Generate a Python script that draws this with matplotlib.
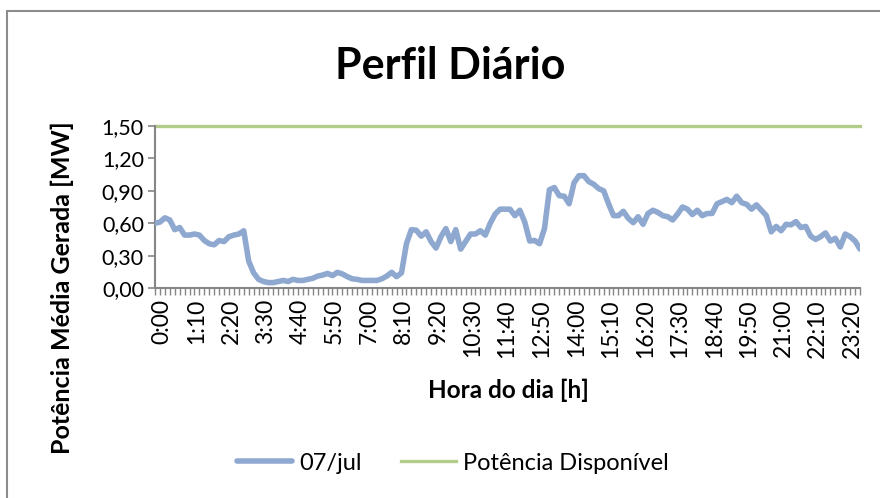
import matplotlib
matplotlib.use("Agg")
import matplotlib.pyplot as plt
from matplotlib.patches import Rectangle
from matplotlib.ticker import FixedLocator, MultipleLocator, FuncFormatter
from matplotlib.transforms import ScaledTranslation

W, H = 880, 498
hours = [f"{(i*10)//60}:{(i*10)%60:02d}" for i in range(144)]

potencia = [
    0.60, 0.61, 0.65, 0.63, 0.54, 0.56, 0.49, 0.49, 0.50, 0.49,
    0.44, 0.41, 0.40, 0.44, 0.43, 0.475, 0.49, 0.50, 0.53, 0.25,
    0.14, 0.08, 0.06, 0.05, 0.05, 0.06, 0.07, 0.06, 0.08, 0.07,
    0.07, 0.08, 0.09, 0.11, 0.12, 0.135, 0.115, 0.145, 0.13, 0.105,
    0.085, 0.08, 0.07, 0.07, 0.07, 0.07, 0.085, 0.11, 0.145, 0.105,
    0.14, 0.41, 0.54, 0.535, 0.48, 0.52, 0.43, 0.37, 0.475, 0.55,
    0.43, 0.54, 0.36, 0.43, 0.50, 0.50, 0.53, 0.49, 0.60, 0.685,
    0.73, 0.73, 0.73, 0.67, 0.72, 0.61, 0.435, 0.44, 0.41, 0.55,
    0.91, 0.93, 0.855, 0.85, 0.78, 0.975, 1.04, 1.04, 0.985, 0.96,
    0.92, 0.90, 0.78, 0.67, 0.67, 0.71, 0.645, 0.605, 0.66, 0.59,
    0.69, 0.72, 0.70, 0.67, 0.66, 0.63, 0.685, 0.75, 0.73, 0.68,
    0.72, 0.67, 0.69, 0.69, 0.78, 0.80, 0.82, 0.79, 0.85, 0.79,
    0.775, 0.73, 0.77, 0.72, 0.67, 0.52, 0.57, 0.53, 0.59, 0.585,
    0.615, 0.56, 0.57, 0.48, 0.45, 0.475, 0.51, 0.435, 0.46, 0.38,
    0.50, 0.475, 0.435, 0.36,
]
disponivel = [1.50] * 144

series_labels = ["07/jul", "Potência Disponível"]
title = "Perfil Diário"
xlabel = "Hora do dia [h]"
ylabel = "Potência Média Gerada [MW]"

FONT = ["Lato", "DejaVu Sans"]
plt.rcParams["font.family"] = FONT

fig = plt.figure(figsize=(W/100, H/100), dpi=100)
fig.patch.set_facecolor("white")

# chart border (right/bottom edges lie outside the image)
border = Rectangle((7/W, -0.1), 1.2, 1 - 11/H + 0.1, transform=fig.transFigure,
                   fill=False, edgecolor="#8c8c8c", linewidth=1.5)
fig.patches.append(border)

left, right, top, bottom = 155, 860, 126, 288
ax = fig.add_axes([left/W, 1 - bottom/H, (right-left)/W, (bottom-top)/H])
x = list(range(len(hours)))
ax.plot(x, disponivel, color="#B3CC8C", linewidth=2.4, label=series_labels[1], clip_on=False, zorder=2)
ax.plot(x, potencia, color="#8EA8D0", linewidth=4.0, label=series_labels[0],
        solid_joinstyle="round", solid_capstyle="round", zorder=3)
ax.set_xlim(0, 143)
ax.set_ylim(0, 1.5)

for s in ["top", "right"]:
    ax.spines[s].set_visible(False)
for s in ["left", "bottom"]:
    ax.spines[s].set_color("#868686")
    ax.spines[s].set_linewidth(1.5)

ax.yaxis.set_major_locator(MultipleLocator(0.30))
ax.yaxis.set_major_formatter(FuncFormatter(lambda v, p: f"{v:.2f}".replace(".", ",")))
ax.tick_params(axis="y", direction="out", length=5, width=1.2, color="#868686", labelsize=15.5, pad=3)

major = list(range(0, 144, 7))
ax.xaxis.set_major_locator(FixedLocator(major))
ax.set_xticklabels([hours[i] for i in major], rotation=90)
ax.xaxis.set_minor_locator(FixedLocator(x))
ax.tick_params(axis="x", which="both", direction="out", length=5, width=1.0, color="#868686")
ax.tick_params(axis="x", which="major", labelsize=16.5, pad=3)

for lab in ax.get_xticklabels():
    lab.set_transform(lab.get_transform() + ScaledTranslation(7/100, 0, fig.dpi_scale_trans))

fig.text(450/W, 1 - 66/H, title, ha="center", va="center", fontsize=31, fontweight="bold")
fig.text(508/W, 1 - 390/H, xlabel, ha="center", va="center", fontsize=17.5, fontweight="bold")
fig.text(62/W, 1 - 288/H, ylabel, ha="center", va="center", fontsize=18, fontweight="bold", rotation=90)

h, l = ax.get_legend_handles_labels()
leg = fig.legend(h[::-1], l[::-1], loc="center", bbox_to_anchor=(453/W, 1 - 463/H), ncol=2,
                 frameon=False, fontsize=17, handlelength=2.3, columnspacing=1.7, handletextpad=0.3)

fig.savefig("out.png", dpi=100, facecolor="white")
